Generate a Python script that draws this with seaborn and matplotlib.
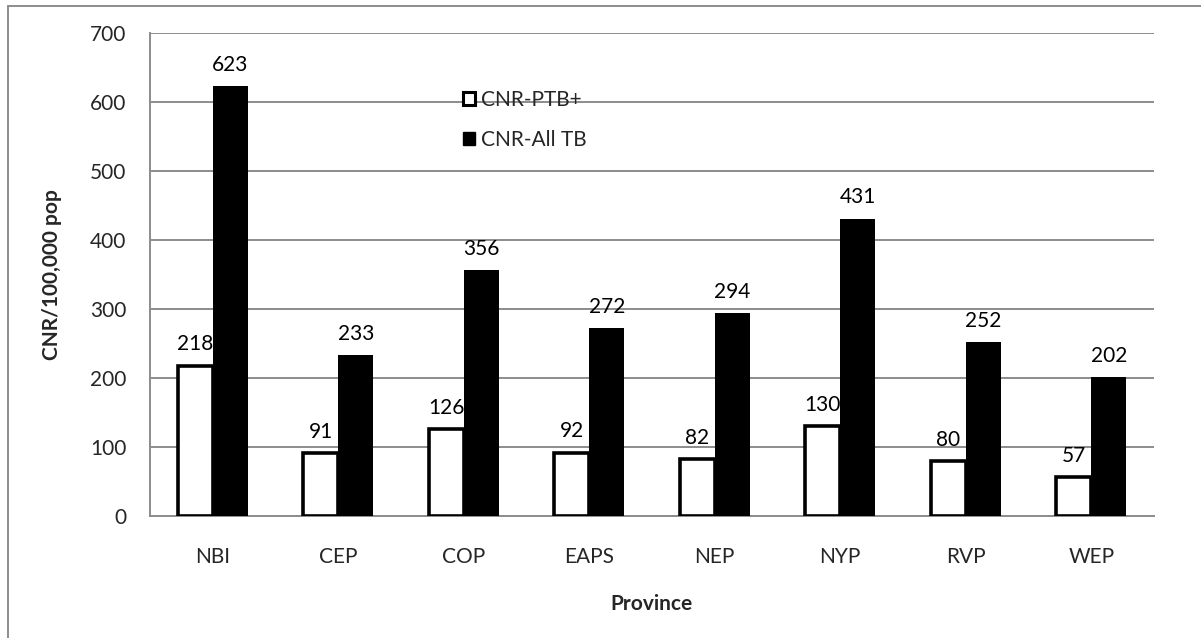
import matplotlib
matplotlib.use("Agg")
import matplotlib.pyplot as plt
import seaborn as sns
import pandas as pd
from matplotlib.lines import Line2D
from matplotlib.patches import Patch

provinces = ["NBI", "CEP", "COP", "EAPS", "NEP", "NYP", "RVP", "WEP"]
cnr_ptb = [218, 91, 126, 92, 82, 130, 80, 57]
cnr_all = [623, 233, 356, 272, 294, 431, 252, 202]
series = ["CNR-PTB+", "CNR-All TB"]
yticks = [0, 100, 200, 300, 400, 500, 600, 700]

df = pd.DataFrame({
    "Province": provinces * 2,
    "value": cnr_ptb + cnr_all,
    "series": [series[0]] * len(provinces) + [series[1]] * len(provinces),
})

sns.set_style("white")
plt.rcParams["font.family"] = ["Lato", "DejaVu Sans"]
FS = 15

W, H = 1201, 638
fig = plt.figure(figsize=(W / 100, H / 100), dpi=100)
ax = fig.add_axes([150 / W, (H - 516) / H, (1154 - 150) / W, (516 - 33) / H])

sns.barplot(data=df, x="Province", y="value", hue="series", order=provinces,
            hue_order=series, palette=["white", "black"], width=0.56,
            edgecolor="black", linewidth=0, ax=ax, legend=False)

n = len(provinces)
for i, p in enumerate(ax.patches[: 2 * n]):
    if i < n:
        p.set_edgecolor("black")
        p.set_linewidth(2.6)
        p.set_facecolor("white")
        p.set_zorder(3)
    else:
        p.set_facecolor("black")
        p.set_edgecolor("black")
        p.set_linewidth(0)
        p.set_zorder(4)

for cont in ax.containers:
    ax.bar_label(cont, labels=[f"{int(v)}" for v in cont.datavalues],
                 padding=8, fontsize=FS, color="black", zorder=5)

ax.set_ylim(0, 700)
ax.set_xlim(-0.5, n - 0.5)
ax.set_yticks(yticks)
ax.set_yticklabels([str(t) for t in yticks], fontsize=FS)
ax.yaxis.grid(True, color="#8c8c8c", linewidth=1.4, zorder=0)
ax.set_axisbelow(True)

ax.set_xticks(range(n))
ax.set_xticklabels(provinces, fontsize=FS)
ax.tick_params(axis="x", length=0, pad=22)
ax.set_xticks([i - 0.5 for i in range(n + 1)], minor=True)
ax.tick_params(axis="x", which="minor", length=7, width=1.4, color="#8c8c8c", direction="out")
ax.tick_params(axis="y", length=7, width=1.4, color="#8c8c8c", direction="out", pad=10)

for s in ["top", "right"]:
    ax.spines[s].set_visible(False)
for s in ["left", "bottom"]:
    ax.spines[s].set_color("#8c8c8c")
    ax.spines[s].set_linewidth(1.4)

ax.set_ylabel("CNR/100,000 pop", fontsize=FS, fontweight="bold", labelpad=20)
ax.set_xlabel("Province", fontsize=FS, fontweight="bold", labelpad=20)

handles = [Patch(facecolor="white", edgecolor="black", linewidth=2.2),
           Patch(facecolor="black", edgecolor="black")]
leg = ax.legend(handles, series, loc="upper left", bbox_to_anchor=(0.293, 0.921),
                frameon=False, fontsize=FS, handlelength=0.6, handleheight=0.6,
                handletextpad=0.25, labelspacing=0.95)

fig.add_artist(Line2D([8 / W, 8 / W], [0, 1 - 6 / H], transform=fig.transFigure,
                      color="#8c8c8c", linewidth=1.4))
fig.add_artist(Line2D([8 / W, 1], [1 - 6 / H, 1 - 6 / H], transform=fig.transFigure,
                      color="#8c8c8c", linewidth=1.4))

fig.savefig("out.png", dpi=100)
